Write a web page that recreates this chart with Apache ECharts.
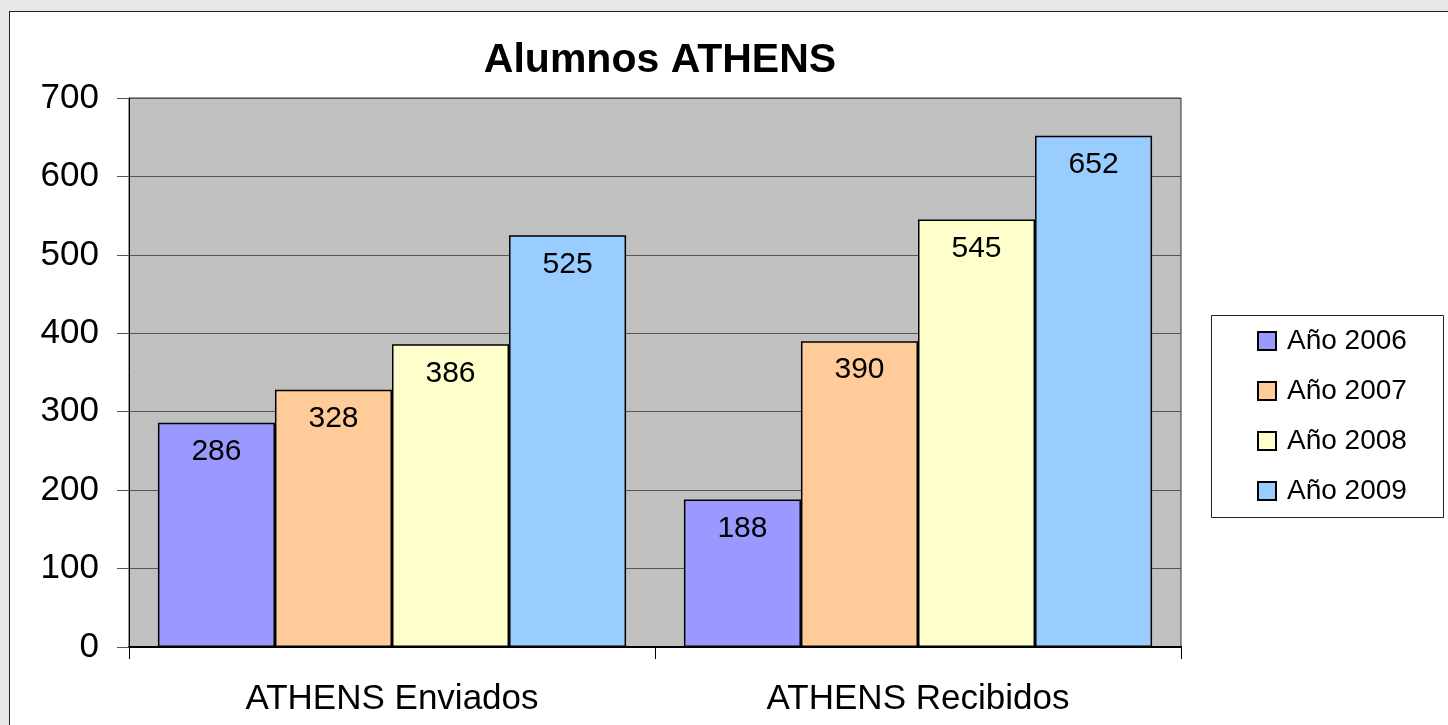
<!DOCTYPE html>
<html><head><meta charset="utf-8">
<script src="https://cdn.jsdelivr.net/npm/echarts@6/dist/echarts.min.js"></script>
<style>
html,body{margin:0;padding:0;background:#e8e8e8;width:1448px;height:725px;overflow:hidden;}
#frame{position:absolute;left:9px;top:11px;width:1460px;height:740px;background:#fff;border:1px solid #222;box-sizing:border-box;}
#chart{position:absolute;left:0;top:0;width:1448px;height:725px;}
</style></head>
<body>
<div id="frame"></div>
<div id="chart"></div>
<script>
const categories = ['ATHENS Enviados', 'ATHENS Recibidos'];
const seriesNames = ['Año 2006', 'Año 2007', 'Año 2008', 'Año 2009'];
const values2006 = [286, 188];
const values2007 = [328, 390];
const values2008 = [386, 545];
const values2009 = [525, 652];
const colors = ['#9999FF', '#FFCC99', '#FFFFCC', '#99CCFF'];
const allValues = [values2006, values2007, values2008, values2009];

const font = '"Liberation Sans", Arial, sans-serif';
const chart = echarts.init(document.getElementById('chart'), null, {renderer: 'canvas'});
chart.setOption({
  animation: false,
  backgroundColor: 'transparent',
  title: {
    text: 'Alumnos ATHENS', left: 655, top: 35, textAlign: 'center',
    textStyle: {fontFamily: font, fontSize: 41, fontWeight: 'bold', color: '#000'}
  },
  grid: {
    left: 129, right: 267, top: 98, bottom: 78,
    show: true, backgroundColor: '#C0C0C0', borderColor: '#333', borderWidth: 1
  },
  legend: {
    orient: 'vertical', left: 1257, top: 327, padding: 0,
    itemWidth: 18, itemHeight: 18, itemGap: 22,
    icon: 'rect',
    textStyle: {fontFamily: font, fontSize: 28, color: '#000', lineHeight: 28, padding: [0, 0, 0, 6]},
    data: seriesNames
  },
  graphic: [{
    type: 'rect', left: 1211, top: 315, z: -1,
    shape: {width: 232, height: 202},
    style: {fill: '#fff', stroke: '#222', lineWidth: 1}
  }],
  xAxis: {
    type: 'category', data: categories,
    axisLine: {lineStyle: {color: '#000', width: 2}},
    axisTick: {show: true, length: 12, lineStyle: {color: '#000'}},
    axisLabel: {fontFamily: font, fontSize: 35, color: '#000', margin: 35}
  },
  yAxis: {
    type: 'value', min: 0, max: 700, interval: 100,
    axisLine: {show: true, lineStyle: {color: '#000', width: 1}},
    axisTick: {show: true, length: 12, lineStyle: {color: '#555'}},
    axisLabel: {fontFamily: font, fontSize: 35, color: '#000', margin: 30},
    splitLine: {lineStyle: {color: '#555', width: 1}}
  },
  series: seriesNames.map((name, i) => ({
    name: name, type: 'bar', data: allValues[i],
    barGap: '0%', barCategoryGap: '11%',
    itemStyle: {color: colors[i], borderColor: '#000', borderWidth: 1.5},
    label: {show: true, position: 'insideTop', distance: 14,
      fontFamily: font, fontSize: 30, color: '#000'}
  }))
});
</script>
</body></html>
